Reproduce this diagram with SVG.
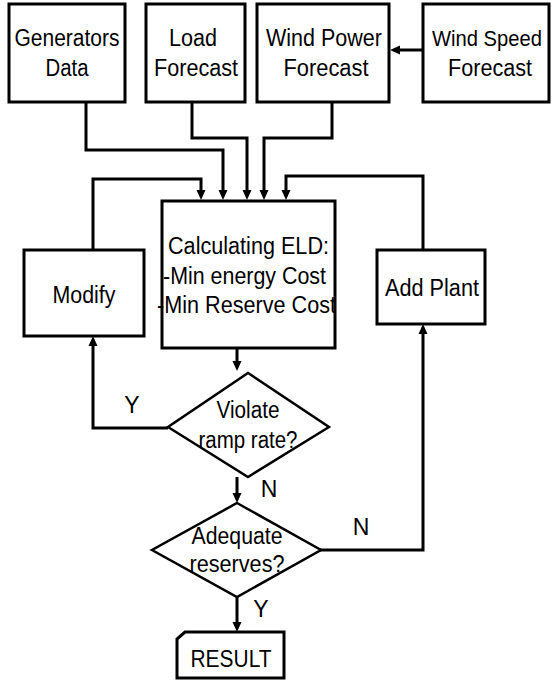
<svg xmlns="http://www.w3.org/2000/svg" width="552" height="681" viewBox="0 0 552 681">
<style>
.box{fill:#fff;stroke:#000;stroke-width:3}
.dia{fill:#fff;stroke:#000;stroke-width:2.5}
.t{font-family:"Liberation Sans",Arial,sans-serif;font-size:23px;fill:#000;text-anchor:middle}
.tl{font-family:"Liberation Sans",Arial,sans-serif;font-size:23px;fill:#000}
.c{fill:none;stroke:#000;stroke-width:3;marker-end:url(#ah)}
</style>
<defs>
<marker id="ah" markerUnits="userSpaceOnUse" markerWidth="11" markerHeight="10" refX="6" refY="5" orient="auto">
<path d="M0,0.5 L10,5 L0,9.5 z" fill="#000"/>
</marker>
</defs>
<rect width="552" height="681" fill="#fff"/>
<g id="connectors">
<path class="c" d="M424,50 H394"/>
<path class="c" d="M86,102 V150 H223 V196"/>
<path class="c" d="M192,102 V138 H247 V196"/>
<path class="c" d="M332,102 V138 H264 V196"/>
<path class="c" d="M93,250 V179 H201 V196"/>
<path class="c" d="M423,250 V176 H286 V196"/>
<path class="c" d="M237,348 V367"/>
<path class="c" d="M168,428 H93 V340"/>
<path class="c" d="M237,477 V499"/>
<path class="c" d="M305,550 H423 V328"/>
<path class="c" d="M237,597 V628"/>
</g>
<g id="generators">
<rect class="box" x="9" y="4" width="116" height="98"/>
<text class="t" x="67" y="46" textLength="105" lengthAdjust="spacingAndGlyphs">Generators</text>
<text class="t" x="67" y="76" textLength="43" lengthAdjust="spacingAndGlyphs">Data</text>
</g>
<g id="load">
<rect class="box" x="146" y="4" width="99" height="98"/>
<text class="t" x="193" y="46" textLength="48" lengthAdjust="spacingAndGlyphs">Load</text>
<text class="t" x="196" y="76" textLength="84" lengthAdjust="spacingAndGlyphs">Forecast</text>
</g>
<g id="windpower">
<rect class="box" x="257" y="4" width="132" height="98"/>
<text class="t" x="324" y="46" textLength="116" lengthAdjust="spacingAndGlyphs">Wind Power</text>
<text class="t" x="326" y="76" textLength="85" lengthAdjust="spacingAndGlyphs">Forecast</text>
</g>
<g id="windspeed">
<rect class="box" x="423" y="4" width="126" height="98"/>
<text class="t" x="487" y="46" style="font-size:21.5px" textLength="110" lengthAdjust="spacingAndGlyphs">Wind Speed</text>
<text class="t" x="490" y="76" textLength="84" lengthAdjust="spacingAndGlyphs">Forecast</text>
</g>
<g id="eld">
<rect class="box" x="162" y="201" width="173" height="147"/>
<text class="tl" x="168" y="254" textLength="161" lengthAdjust="spacingAndGlyphs">Calculating ELD:</text>
<text class="tl" x="163" y="284" textLength="163" lengthAdjust="spacingAndGlyphs">-Min energy Cost</text>
<text class="tl" x="157" y="313" textLength="179" lengthAdjust="spacingAndGlyphs">-Min Reserve Cost</text>
</g>
<g id="modify">
<rect class="box" x="24" y="250" width="120" height="86"/>
<text class="t" x="84" y="303" textLength="63" lengthAdjust="spacingAndGlyphs">Modify</text>
</g>
<g id="addplant">
<rect class="box" x="377" y="250" width="108" height="74"/>
<text class="t" x="432" y="296" textLength="94" lengthAdjust="spacingAndGlyphs">Add Plant</text>
</g>
<g id="violate">
<polygon class="dia" points="248,373 329,427 248,477 168,427"/>
<text class="t" x="248" y="418" textLength="63" lengthAdjust="spacingAndGlyphs">Violate</text>
<text class="t" x="248" y="448" textLength="99" lengthAdjust="spacingAndGlyphs">ramp rate?</text>
</g>
<g id="adequate">
<polygon class="dia" points="237,503 321,550 237,597 152,550"/>
<text class="t" x="237" y="544" textLength="91" lengthAdjust="spacingAndGlyphs">Adequate</text>
<text class="t" x="237" y="572" textLength="95" lengthAdjust="spacingAndGlyphs">reserves?</text>
</g>
<g id="result">
<polygon class="box" points="185,632 284,632 284,678 177,678 177,639"/>
<text class="t" x="231" y="667" textLength="81" lengthAdjust="spacingAndGlyphs">RESULT</text>
</g>
<g id="labels">
<text class="t" x="132" y="413">Y</text>
<text class="t" x="269" y="497">N</text>
<text class="t" x="361" y="535">N</text>
<text class="t" x="261" y="617">Y</text>
</g>
</svg>
